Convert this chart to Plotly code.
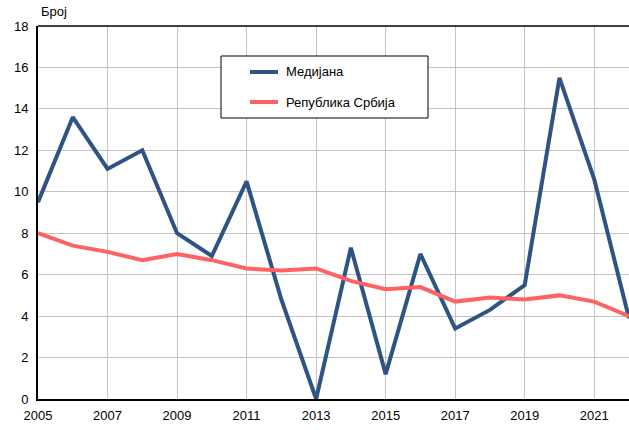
import plotly.graph_objects as go

# Years and series values
years = list(range(2005, 2023))
medijana = [9.5, 13.6, 11.1, 12.0, 8.0, 6.9, 10.5, 4.8, 0.0, 7.3,
            1.2, 7.0, 3.4, 4.3, 5.5, 15.5, 10.6, 3.9]
srbija = [8.0, 7.4, 7.1, 6.7, 7.0, 6.7, 6.3, 6.2, 6.3, 5.7,
          5.3, 5.4, 4.7, 4.9, 4.8, 5.0, 4.7, 4.0]
series_names = ["Медијана", "Република Србија"]
y_title = "Број"

BLUE = "#2F5483"
RED = "#FF6262"
FONT = "Liberation Sans, Arial, sans-serif"

W, H = 629, 430
ML, MR, MT, MB = 38, 0, 26, 31
PW, PH = W - ML - MR, H - MT - MB

fig = go.Figure()
fig.add_trace(go.Scatter(x=years, y=medijana, mode="lines", name=series_names[0],
                         line=dict(color=BLUE, width=4), showlegend=False))
fig.add_trace(go.Scatter(x=years, y=srbija, mode="lines", name=series_names[1],
                         line=dict(color=RED, width=4), showlegend=False))


def px_x(p):
    return (p - ML) / PW


def px_y(p):
    return 1 - (p - MT) / PH


# Legend box drawn in paper space
shapes = [
    dict(type="rect", xref="paper", yref="paper",
         x0=px_x(221), x1=px_x(428), y0=px_y(118), y1=px_y(56),
         line=dict(color="#000000", width=1), fillcolor="white", layer="above"),
]
annotations = []
for i, (name, col) in enumerate(zip(series_names, [BLUE, RED])):
    yy = 72 + i * 30
    shapes.append(dict(type="line", xref="paper", yref="paper",
                       x0=px_x(250), x1=px_x(278), y0=px_y(yy), y1=px_y(yy),
                       line=dict(color=col, width=4), layer="above"))
    annotations.append(dict(xref="paper", yref="paper", x=px_x(284), y=px_y(yy),
                            text=name, showarrow=False, xanchor="left", yanchor="middle",
                            font=dict(family=FONT, size=13, color="#000")))

# Axis title above the y axis
annotations.append(dict(xref="paper", yref="paper", x=px_x(39), y=px_y(12),
                        text=y_title, showarrow=False, xanchor="left", yanchor="middle",
                        font=dict(family=FONT, size=13, color="#000")))

fig.update_layout(
    width=W, height=H,
    margin=dict(l=ML, r=MR, t=MT, b=MB),
    paper_bgcolor="white", plot_bgcolor="white",
    font=dict(family=FONT, size=13, color="#000"),
    shapes=shapes, annotations=annotations,
    xaxis=dict(range=[2005, 2022], tick0=2005, dtick=2, showgrid=True,
               gridcolor="#C4C4C4", gridwidth=1, showline=True, linecolor="#000",
               linewidth=2, mirror=False, ticks="", zeroline=False,
               ticklabelstandoff=3, tickfont=dict(size=13)),
    yaxis=dict(range=[0, 18], dtick=2, showgrid=True, gridcolor="#C4C4C4",
               gridwidth=1, showline=True, linecolor="#000", linewidth=2,
               ticks="", zeroline=False, ticklabelstandoff=5,
               tickfont=dict(size=13)),
)
# top border of the plot area
fig.add_shape(type="line", xref="paper", yref="paper", x0=0, x1=1, y0=1, y1=1,
              line=dict(color="#000", width=1.5))

fig.write_html("out.html")
